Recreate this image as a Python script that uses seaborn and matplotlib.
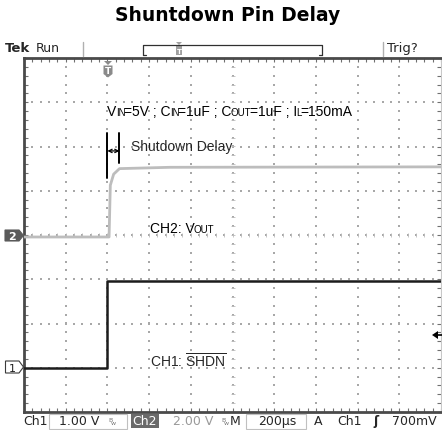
import numpy as np
import matplotlib
matplotlib.use("Agg")
import matplotlib.pyplot as plt
import seaborn as sns
from matplotlib.transforms import Affine2D, offset_copy
from matplotlib.patches import Polygon, Rectangle
from matplotlib.ticker import MultipleLocator

# ---------------- data ----------------
title = "Shuntdown Pin Delay"
ch1_time_us = [-400, 0, 0, 1600]
ch1_volts = [0.0, 0.0, 1.95, 1.95]
ch2_time_us = [-400, 8, 14, 30, 58, 300, 1600]
ch2_volts = [-0.09, -0.09, 2.25, 2.75, 3.0, 3.06, 3.08]
ch1_scale, ch2_scale = 1.0, 2.0          # V/div
ch1_offset, ch2_offset = -3.0, 0.0       # divisions
time_per_div = 200                        # us/div
trigger_pos_us = -400                     # left edge of screen
trig_level = 0.7                          # V on Ch1
delay_start_us, delay_end_us = 0, 58
readouts = ["Ch1", "1.00 V", "Ch2", "2.00 V", "M", "200µs", "A", "Ch1", "ʃ", "700mV"]

W, H = 442, 430
sns.set_style("white")
plt.rcParams["font.family"] = ["Liberation Sans", "DejaVu Sans"]
plt.rcParams["mathtext.fontset"] = "custom"
plt.rcParams["mathtext.rm"] = "Liberation Sans"

fig = plt.figure(figsize=(W / 100, H / 100), dpi=100)
ax = fig.add_axes([24 / W, 18 / H, 417 / W, 354 / H])
PX = Affine2D().scale(1 / W, -1 / H).translate(0, 1) + fig.transFigure

xmin, xmax = trigger_pos_us, trigger_pos_us + 10 * time_per_div
ax.set_xlim(xmin, xmax)
ax.set_ylim(-4, 4)

# grid dots
dot_c = "#a8a8a8"
for gx in np.arange(xmin + time_per_div, xmax, time_per_div):
    ys = np.arange(-4 + 0.2, 4, 0.2)
    ax.scatter(np.full_like(ys, gx), ys, s=1.3, marker="s", color=dot_c, lw=0, zorder=1)
for gy in range(-3, 4):
    xs = np.arange(xmin + time_per_div / 5, xmax, time_per_div / 5)
    ax.scatter(xs, np.full_like(xs, gy), s=1.3, marker="s", color=dot_c, lw=0, zorder=1)
# center cross ticks
cx = (xmin + xmax) / 2
xs = np.arange(xmin + time_per_div / 5, xmax, time_per_div / 5)
ax.plot(xs, np.zeros_like(xs), ls="none", marker="|", ms=3, mew=0.6, color="#bdbdbd", zorder=1)
ys = np.arange(-4 + 0.2, 4, 0.2)
ax.plot(np.full_like(ys, cx), ys, ls="none", marker="_", ms=3, mew=0.6, color="#bdbdbd", zorder=1)

# traces
ch2_div = [ch2_offset + v / ch2_scale for v in ch2_volts]
ch1_div = [ch1_offset + v / ch1_scale for v in ch1_volts]
sns.lineplot(x=ch2_time_us, y=ch2_div, ax=ax, color="#bdbdbd", lw=2.0,
             estimator=None, sort=False, zorder=3)
sns.lineplot(x=ch1_time_us, y=ch1_div, ax=ax, color="#1c1c1c", lw=1.8,
             estimator=None, sort=False, zorder=4)

# frame and ticks
for s in ["left", "top", "bottom"]:
    ax.spines[s].set_color("#4a4a4a")
    ax.spines[s].set_linewidth(2)
ax.spines["right"].set_color("#c8c8c8")
ax.spines["right"].set_linewidth(0.8)
ax.xaxis.set_major_locator(MultipleLocator(time_per_div))
ax.xaxis.set_minor_locator(MultipleLocator(time_per_div / 5))
ax.yaxis.set_major_locator(MultipleLocator(1))
ax.yaxis.set_minor_locator(MultipleLocator(0.2))
ax.tick_params(which="both", direction="in", top=True, bottom=True, left=True, right=True,
               labelbottom=False, labelleft=False, length=3, width=0.8, color="#707070")

# ---------------- annotations ----------------
renderer = fig.canvas.get_renderer()


def rich(x, y, pieces, transform, color="black", fudge=1.0):
    off = 0.0
    for s, size in pieces:
        t = fig.text(x, y, s, fontsize=size, color=color, va="baseline", ha="left",
                     transform=offset_copy(transform, fig=fig, x=off, y=0, units="dots"))
        off += t.get_window_extent(renderer).width - fudge
    return off


big, small = 10, 7
rich(0, 2.70, [("V", big), ("IN", small), ("=5V ; C", big), ("IN", small), ("=1uF ; C", big),
               ("OUT", small), ("=1uF ; I", big), ("L", small), ("=150mA", big)], ax.transData)
ax.text(113, 1.90, "Shutdown Delay", fontsize=big, va="baseline")
rich(204, 0.045, [("CH2: V", big), ("OUT", small)], ax.transData)
ax.text(204, -3.0, r"CH1: $\overline{\mathrm{SHDN}}$", fontsize=big, va="baseline")

# delay marker
ax.plot([delay_start_us, delay_start_us], [1.28, 2.31], color="black", lw=1.4, zorder=5)
ax.plot([delay_end_us, delay_end_us], [1.62, 2.31], color="black", lw=1.4, zorder=5)
ax.annotate("", xy=(delay_start_us, 1.90), xytext=(delay_end_us, 1.90),
            arrowprops=dict(arrowstyle="<->", lw=0.9, color="black", mutation_scale=6,
                            shrinkA=0, shrinkB=0))

# trigger level arrow on right
tl = ch1_offset + trig_level / ch1_scale
fig.add_artist(Polygon([[432, 335], [438, 331], [438, 339]], closed=True, transform=PX,
                       color="black", lw=0))
fig.add_artist(plt.Line2D([437, 442], [335, 335], transform=PX, color="black", lw=1.2))

# title
fig.text(228, 21, title, transform=PX, ha="center", va="baseline", fontsize=13.5,
         fontweight="bold", family="DejaVu Sans", color="black")

# header
ui = "DejaVu Sans"
fig.text(5, 52, "Tek", transform=PX, fontsize=9.5, fontweight="bold", family=ui, va="baseline")
fig.text(36, 52, "Run", transform=PX, fontsize=9, family=ui, va="baseline")
fig.text(387, 52, "Trig?", transform=PX, fontsize=9.5, family=ui, va="baseline")
for xx in (83, 383):
    fig.add_artist(plt.Line2D([xx, xx], [42, 56], transform=PX, color="#b0b0b0", lw=1))
fig.add_artist(plt.Line2D([143, 143, 322, 322], [55, 44.5, 44.5, 55], transform=PX,
                          color="#303030", lw=0.9))
fig.add_artist(plt.Line2D([143, 146], [55, 55], transform=PX, color="#303030", lw=0.9))
fig.add_artist(plt.Line2D([319, 322], [55, 55], transform=PX, color="#303030", lw=0.9))
fig.add_artist(Polygon([[176, 42], [182, 42], [179, 45]], closed=True, transform=PX,
                       color="#a0a0a0", lw=0))
fig.add_artist(Rectangle((176, 45), 6, 10, transform=PX, color="#a0a0a0", lw=0))
fig.text(179, 53.5, "T", transform=PX, fontsize=5, color="white", ha="center",
         va="baseline", family=ui, fontweight="bold")

# trigger position marker at top of screen
fig.add_artist(Polygon([[104, 61], [112, 61], [108, 65]], closed=True, transform=PX,
                       color="#8a8a8a", lw=0))
fig.add_artist(Polygon([[103.5, 65.5], [112.5, 65.5], [112.5, 74], [108, 77.5], [103.5, 74]],
                       closed=True, transform=PX, color="#8a8a8a", lw=0))
fig.text(108, 73.5, "T", transform=PX, fontsize=6.5, color="white", ha="center",
         va="baseline", family=ui, fontweight="bold")

# channel ground markers
fig.add_artist(Polygon([[5, 230], [19, 230], [23.5, 235.5], [19, 241], [5, 241]], closed=True,
                       transform=PX, facecolor="#5a5a5a", edgecolor="#5a5a5a", lw=0.8))
fig.text(12, 239.5, "2", transform=PX, fontsize=8, color="white", ha="center", va="baseline",
         family=ui, fontweight="bold")
fig.add_artist(Polygon([[5.5, 361], [19, 361], [23.5, 367], [19, 373], [5.5, 373]], closed=True,
                       transform=PX, facecolor="white", edgecolor="#3a3a3a", lw=0.8))
fig.text(12, 371.5, "1", transform=PX, fontsize=8, color="#222222", ha="center", va="baseline",
         family=ui)

# bottom readouts
by = 425
fig.add_artist(Rectangle((49, 414), 78, 15, transform=PX, fill=False, edgecolor="#c0c0c0", lw=0.8))
fig.add_artist(Rectangle((245.5, 414), 60, 15, transform=PX, fill=False, edgecolor="#c0c0c0", lw=0.8))
fig.add_artist(Rectangle((131, 414), 28, 14, transform=PX, color="#6a6a6a", lw=0))
fig.text(23, by, readouts[0], transform=PX, fontsize=9, family=ui, va="baseline")
fig.text(59, by, readouts[1], transform=PX, fontsize=9, family=ui, va="baseline")
fig.text(108, by - 3, "B", transform=PX, fontsize=4.5, family=ui, va="baseline", color="#777777")
fig.text(111, by, "w", transform=PX, fontsize=4.5, family=ui, va="baseline", color="#777777")
fig.text(132.5, by, readouts[2], transform=PX, fontsize=9, family=ui, va="baseline", color="white")
fig.text(173, by, readouts[3], transform=PX, fontsize=9, family=ui, va="baseline", color="#9a9a9a")
fig.text(221, by - 3, "B", transform=PX, fontsize=4.5, family=ui, va="baseline", color="#777777")
fig.text(224, by, "w", transform=PX, fontsize=4.5, family=ui, va="baseline", color="#777777")
fig.text(230, by, readouts[4], transform=PX, fontsize=9, family=ui, va="baseline")
fig.text(258, by, readouts[5], transform=PX, fontsize=9, family=ui, va="baseline")
fig.text(314, by, readouts[6], transform=PX, fontsize=9, family=ui, va="baseline")
fig.text(337, by, readouts[7], transform=PX, fontsize=9, family=ui, va="baseline")
fig.text(373, by, readouts[8], transform=PX, fontsize=9, family=ui, va="baseline",
         fontweight="bold")
fig.text(392, by, readouts[9], transform=PX, fontsize=9, family=ui, va="baseline")

fig.savefig("out.png", dpi=100, facecolor="white")
